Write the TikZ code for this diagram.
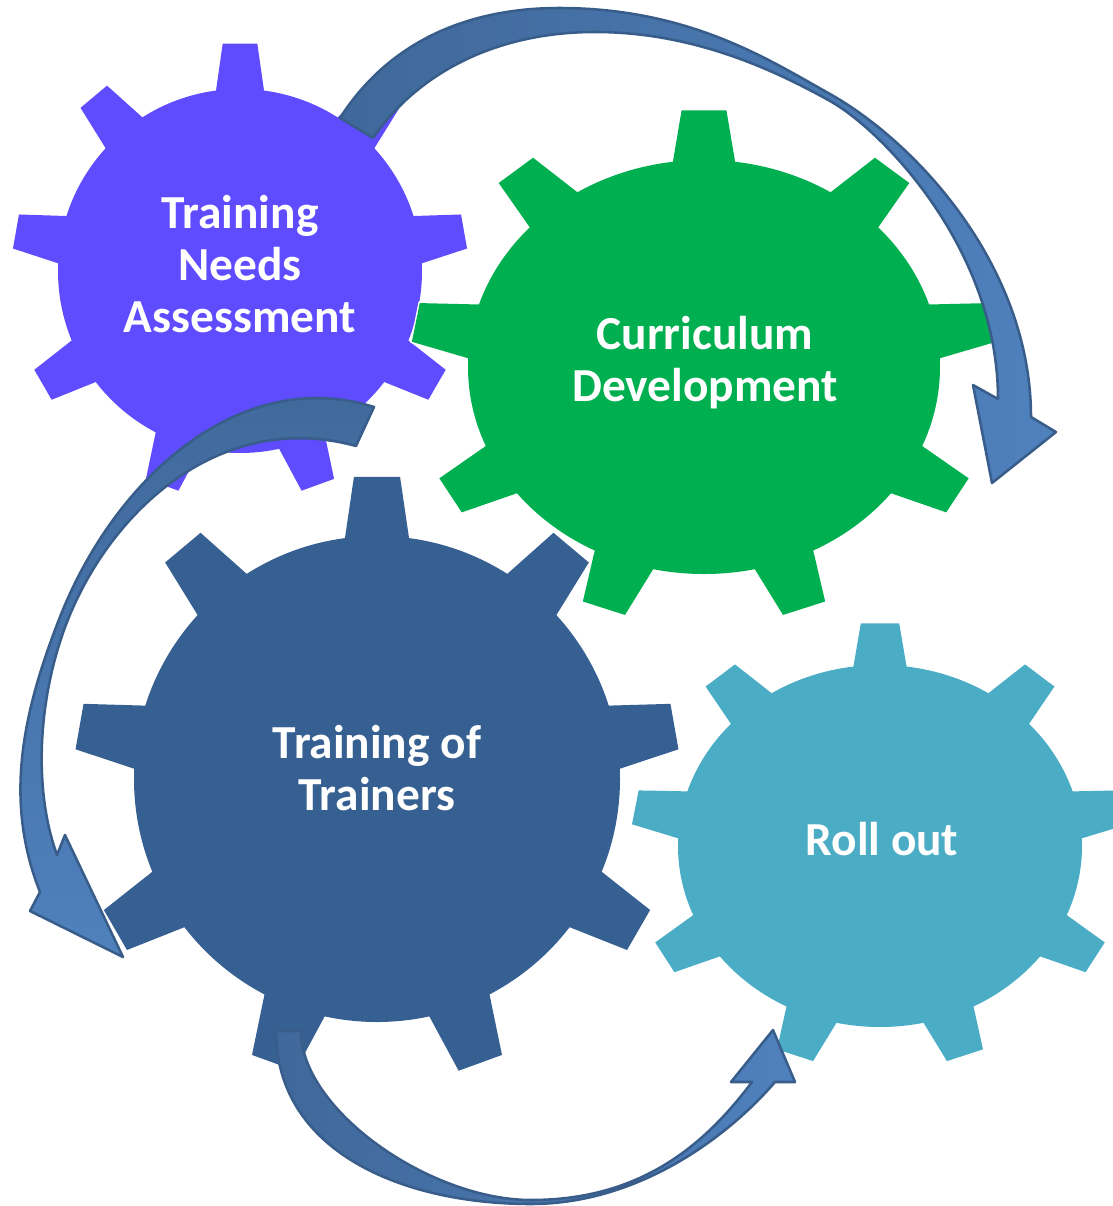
\documentclass[tikz,border=0pt]{standalone}
\usepackage{fontspec}
\setmainfont{Carlito}
\usepackage{tikz}
\definecolor{tnapurple}{RGB}{96,76,255}
\definecolor{cdgreen}{RGB}{0,176,80}
\definecolor{totblue}{RGB}{55,96,146}
\definecolor{rolightblue}{RGB}{75,172,198}
\definecolor{arrowdark}{RGB}{64,104,154}
\definecolor{arrowlight}{RGB}{79,129,189}
\definecolor{arrowline}{RGB}{56,93,138}

% one gear in unit size: body radius 1, nine teeth
\newcommand{\gearshape}[2]{%
  \path[#2] (0,0) circle[radius=1];
  \foreach \a in {10,50,...,330}
    \path[#2, rotate=\a] (0.97,-0.135) -- (#1,-0.095) -- (#1,0.095) -- (0.97,0.135) -- cycle;
}

\tikzset{
  gearlabel/.style={text=white, font=\fontsize{33.7}{37}\selectfont\bfseries, align=center},
  bendarrow/.style={draw=arrowline, line width=1.8pt, line join=round},
}

\begin{document}
\begin{tikzpicture}[x=0.025cm, y=-0.025cm]
  \useasboundingbox (0,0) rectangle (1113,1206);
  \clip (0,0) rectangle (1113,1206);

  % Gears
  \begin{scope}[shift={(240,271)}, xscale=182, yscale=182]
    \gearshape{1.25}{fill=tnapurple}
  \end{scope}
  \begin{scope}[shift={(377,779)}, xscale=243, yscale=243]
    \gearshape{1.243}{fill=totblue}
  \end{scope}
  \begin{scope}[shift={(704,367)}, xscale=236, yscale=207]
    \gearshape{1.24}{fill=white, draw=white, line width=2pt}
    \gearshape{1.24}{fill=cdgreen}
  \end{scope}
  \begin{scope}[shift={(880,846)}, xscale=202, yscale=181]
    \gearshape{1.23}{fill=rolightblue}
  \end{scope}

  % Arrows
  \path[bendarrow, left color=arrowdark, right color=arrowlight]
    (340,118) .. controls (390,40) and (470,8) .. (559,8)
    .. controls (690,8) and (769,60) .. (830,94)
    .. controls (917,143) and (1031,267) .. (1031,417)
    -- (1056,432) -- (992,483) -- (973,385) -- (998,399)
    .. controls (998,249) and (882,130) .. (830,101)
    .. controls (769,67) and (690,32) .. (595,32)
    .. controls (500,32) and (420,70) .. (373,138)
    -- cycle;
  \path[bendarrow, top color=arrowdark, bottom color=arrowlight]
    (374,407) .. controls (241,365) and (115,477) .. (60,617)
    .. controls (23.5,710) and (3,799) .. (40,892)
    -- (30,911) -- (123,957) -- (65,835) -- (57,855)
    .. controls (33,789) and (37.8,697.5) .. (67,622)
    .. controls (110.8,510) and (221,409) .. (356,446)
    -- cycle;
  \path[bendarrow, left color=arrowdark, right color=arrowlight]
    (276,1031) .. controls (276,1150) and (400,1204) .. (531,1204)
    .. controls (640,1204) and (729.5,1135) .. (775,1082)
    -- (795,1082) -- (773,1030) -- (731,1082) -- (752,1082)
    .. controls (704,1146) and (640,1200) .. (531,1200)
    .. controls (430,1200) and (301,1110) .. (301,1031)
    -- cycle;

  % Labels
  \node[gearlabel] (tna) at (240,264) {Training\\Needs\\Assessment};
  \node[gearlabel] (cd) at (705,363) {Curriculum\\Development};
  \node[gearlabel] (tot) at (377,768) {Training of\\Trainers};
  \node[gearlabel] (ro) at (882,839) {Roll out};
\end{tikzpicture}
\end{document}
